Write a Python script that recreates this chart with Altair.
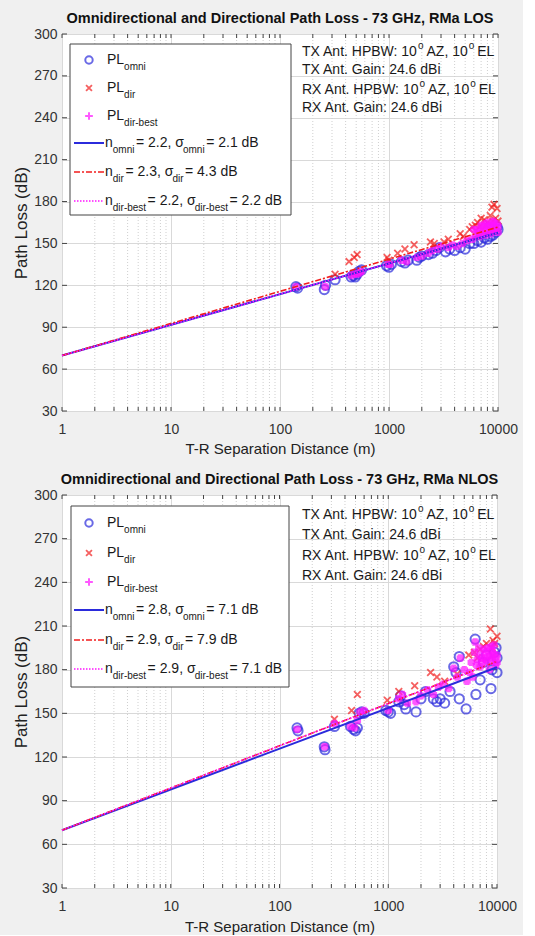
import altair as alt
import pandas as pd

# ---------------- data ----------------
los_omni_d = [140, 145, 255, 262, 320, 450, 470, 490, 510, 530, 560, 950, 1000, 1050, 1300, 1400, 1500,
              1800, 1900, 2000, 2300, 2500, 2700, 2900, 3300, 3600, 4000, 4500, 5000, 5500, 6000, 6500,
              7000, 7500, 8000, 8500, 9000, 9500, 9800, 10000]
los_omni_pl = [119, 118, 117, 120, 124, 126, 127, 126, 128, 130, 131, 134, 133, 135, 137, 136, 138,
               138, 140, 141, 142, 143, 145, 147, 144, 146, 145, 147, 146, 150, 150, 152,
               151, 154, 153, 155, 156, 158, 162, 160]
los_dir_d = [320, 430, 480, 510, 960, 1000, 1200, 1400, 1700, 2400, 2600, 3200, 3500, 4500, 4800, 5500,
             6200, 6500, 7000, 7500, 8000, 8500, 8800, 9200, 9800, 10000, 5800, 6800, 7800, 9000, 9500]
los_dir_pl = [128, 137, 140, 142, 140, 138, 143, 146, 149, 151, 150, 151, 153, 157, 155, 160,
              163, 165, 168, 167, 165, 170, 176, 178, 175, 166, 162, 162, 163, 166, 168]
los_best_d = [140, 260, 450, 480, 510, 540, 560, 980, 1020, 1300, 1450, 1800, 2000, 2300, 2500, 2800,
              3000, 3500, 3800, 4200, 4700, 5200, 5800, 6200, 6600, 7000, 7400, 7800, 8200, 8600,
              9000, 9400, 9800, 10000, 6000, 7000, 8000, 9000, 10000, 6400, 7200, 7600, 8400,
              8800, 9200, 9600, 6800, 7700, 8600]
los_best_pl = [119, 119, 127, 128, 128, 129, 130, 135, 135, 138, 137, 140, 141, 143, 145, 146,
               148, 147, 149, 148, 150, 152, 153, 155, 158, 157, 160, 159, 162, 160,
               163, 161, 164, 162, 160, 163, 165, 166, 158, 160, 162, 164, 163,
               158, 165, 160, 155, 156, 157]
los_fit_d = [1, 10000]
los_fit_omni = [69.7, 157.7]
los_fit_dir = [69.7, 161.7]
los_fit_best = [69.7, 157.7]

nlos_omni_d = [145, 148, 258, 262, 320, 450, 480, 500, 520, 540, 570, 600, 950, 1000, 1050, 1250, 1300,
               1400, 1450, 1800, 2000, 2200, 2600, 2800, 3000, 3300, 3700, 4000, 4200, 4500, 4500,
               5200, 6300, 6400, 7000, 7500, 8000, 8800, 9000, 9500, 10000, 10000, 9800]
nlos_omni_pl = [140, 138, 127, 125, 141, 141, 139, 138, 140, 150, 151, 150, 152, 151, 150, 158, 162,
                156, 153, 151, 160, 165, 160, 158, 160, 157, 165, 182, 178, 160, 189,
                153, 201, 163, 173, 185, 190, 167, 180, 192, 188, 178, 195]
nlos_dir_d = [320, 460, 520, 980, 1250, 1750, 2450, 2800, 3300, 4300, 5500, 6200, 7000, 7500, 8000,
              8700, 9200, 9500, 10000, 6600, 9000]
nlos_dir_pl = [146, 152, 163, 159, 165, 169, 178, 175, 172, 177, 190, 192, 194, 196, 198,
               208, 200, 198, 203, 188, 195]
nlos_best_d = [145, 260, 320, 450, 490, 520, 550, 600, 1000, 1250, 1350, 1500, 1800, 2000, 2300, 2600,
               2900, 3200, 3600, 4000, 4300, 4600, 5000, 5300, 5800, 6300, 6600, 7000, 7400, 7800,
               8200, 8600, 9000, 9400, 9800, 10000, 6000, 7000, 8000, 9000, 10000, 8500,
               6200, 6800, 7200, 7600, 8200, 8800, 9300, 9700, 5600, 6500, 7800, 9100]
nlos_best_pl = [139, 127, 143, 141, 140, 145, 151, 152, 152, 160, 163, 157, 158, 162, 166, 163,
                168, 170, 167, 181, 175, 188, 180, 172, 185, 199, 187, 190, 185, 192,
                195, 190, 193, 197, 188, 185, 175, 182, 186, 188, 190, 180,
                192, 195, 188, 194, 189, 196, 191, 183, 178, 183, 187, 186]
nlos_fit_d = [1, 10000]
nlos_fit_omni = [69.7, 181.7]
nlos_fit_dir = [69.7, 185.7]
nlos_fit_best = [69.7, 185.7]

x_ticks = [1, 10, 100, 1000, 10000]
x_minor = [m * 10 ** k for k in range(4) for m in range(2, 10)]
y_ticks = [30, 60, 90, 120, 150, 180, 210, 240, 270, 300]

titles = ["Omnidirectional and Directional Path Loss - 73 GHz, RMa LOS",
          "Omnidirectional and Directional Path Loss - 73 GHz, RMa NLOS"]
leg_stats = [[("2.2", "2.1"), ("2.3", "4.3"), ("2.2", "2.2")],
             [("2.8", "7.1"), ("2.9", "7.9"), ("2.9", "7.1")]]

BLUE = "#2b2bdc"
RED = "#f21d1d"
MAG = "#ff14ff"
FONT = "Liberation Sans"

# Arial/Liberation Sans advance widths (em)
W = {' ': .278, '=': .584, '.': .278, ',': .278, ':': .278, '-': .333, 'σ': .55}
for c in '0123456789':
    W[c] = .556
W.update({'P': .667, 'L': .556, 'n': .556, 'd': .556, 'B': .667, 'o': .556, 'm': .833, 'i': .222,
          'r': .333, 'b': .556, 'e': .556, 's': .5, 't': .278, 'T': .611, 'X': .667, 'A': .667,
          'H': .722, 'W': .944, 'Z': .611, 'E': .667, 'G': .778, 'a': .556, 'R': .722})


def tw(s, fs):
    return sum(W.get(c, .556) for c in s) * fs


one = pd.DataFrame({"a": [0]})


def rich(x0, y0, parts, fs=14, sfs=10):
    """parts: list of (text, kind[, shift]) kind in n (normal), s (sub), u (sup)"""
    layers = []
    x = x0
    for p in parts:
        txt, kind = p[0], p[1]
        if len(p) > 2:
            x += p[2]
        if kind == "n":
            size, dy, extra = fs, 0, 0
        elif kind == "s":
            size, dy, extra = sfs, 7, 1.5
        else:
            size, dy, extra = sfs, -6, 3
        layers.append(alt.Chart(one).mark_text(align="left", baseline="middle", fontSize=size,
                                               font=FONT, color="#1a1a1a").encode(
            x=alt.value(x), y=alt.value(y0 + dy), text=alt.value(txt)))
        x += tw(txt, size) + extra
    return layers


def panel(idx, W_, H_, om_d, om_pl, di_d, di_pl, be_d, be_pl, fd, f_om, f_di, f_be,
          box, rows, ann_rows, title_pad):
    xsc = alt.Scale(type="log", domain=[1, 10000], nice=False)
    ysc = alt.Scale(domain=[30, 300], nice=False, zero=False)
    xax = alt.Axis(values=x_ticks, format="d", title="T-R Separation Distance (m)", grid=True,
                   gridColor="#d9d9d9", labelFlush=False, ticks=False, labelPadding=11,
                   titlePadding=title_pad, labelFontSize=14, titleFontSize=15, labelFont=FONT,
                   titleFont=FONT, titleFontWeight="normal", labelColor="#333", titleColor="#222",
                   domain=False)
    yax = alt.Axis(values=y_ticks, title="Path Loss (dB)", grid=True, gridColor="#d9d9d9",
                   ticks=False, labelPadding=5, titlePadding=3, labelFontSize=14, titleFontSize=17,
                   labelFont=FONT, titleFont=FONT, titleFontWeight="normal", labelColor="#333",
                   titleColor="#222", domain=False)

    minor = alt.Chart(pd.DataFrame({"d": x_minor})).mark_rule(
        color="#cfcfcf", strokeDash=[1, 2], strokeWidth=1).encode(
        x=alt.X("d:Q", scale=xsc, axis=xax))
    base_y = alt.Chart(pd.DataFrame({"d": [1], "pl": [30]})).mark_point(opacity=0).encode(
        x=alt.X("d:Q", scale=xsc, axis=xax), y=alt.Y("pl:Q", scale=ysc, axis=yax))

    # inward ticks (MATLAB style)
    xt_all = pd.DataFrame({"d": x_ticks + x_minor})
    tk_b = alt.Chart(xt_all).mark_rule(color="#444", strokeWidth=1).encode(
        x=alt.X("d:Q", scale=xsc), y=alt.value(H_), y2=alt.value(H_ - 4))
    tk_t = alt.Chart(xt_all).mark_rule(color="#444", strokeWidth=1).encode(
        x=alt.X("d:Q", scale=xsc), y=alt.value(0), y2=alt.value(4))
    yt = pd.DataFrame({"pl": y_ticks})
    tk_l = alt.Chart(yt).mark_rule(color="#444", strokeWidth=1).encode(
        y=alt.Y("pl:Q", scale=ysc), x=alt.value(0), x2=alt.value(5))
    tk_r = alt.Chart(yt).mark_rule(color="#444", strokeWidth=1).encode(
        y=alt.Y("pl:Q", scale=ysc), x=alt.value(W_ - 5), x2=alt.value(W_))

    def pts(d, pl):
        return pd.DataFrame({"d": d, "pl": pl})

    omni = alt.Chart(pts(om_d, om_pl)).mark_point(
        shape="circle", filled=False, stroke=BLUE, strokeWidth=2, size=85).encode(
        x=alt.X("d:Q", scale=xsc), y=alt.Y("pl:Q", scale=ysc))
    dirp = alt.Chart(pts(di_d, di_pl)).mark_point(
        shape="M-1,-1L1,1M-1,1L1,-1", filled=False, stroke=RED, strokeWidth=1.8, size=45).encode(
        x=alt.X("d:Q", scale=xsc), y=alt.Y("pl:Q", scale=ysc))
    best = alt.Chart(pts(be_d, be_pl)).mark_point(
        shape="M-1,0L1,0M0,-1L0,1", filled=False, stroke=MAG, strokeWidth=5, size=55).encode(
        x=alt.X("d:Q", scale=xsc), y=alt.Y("pl:Q", scale=ysc))

    def fit(vals, color, width, dash):
        kw = dict(color=color, strokeWidth=width)
        if dash:
            kw["strokeDash"] = dash
        return alt.Chart(pd.DataFrame({"d": fd, "pl": vals})).mark_line(**kw).encode(
            x=alt.X("d:Q", scale=xsc), y=alt.Y("pl:Q", scale=ysc))

    l_om = fit(f_om, BLUE, 2, None)
    l_di = fit(f_di, RED, 1.6, [6, 2, 2, 2])
    l_be = fit(f_be, MAG, 1.6, [1.5, 1.5])

    layers = [minor, base_y, tk_b, tk_t, tk_l, tk_r, omni, dirp, best, l_om, l_di, l_be]

    # legend box
    bx0, by0, bx1, by1 = box
    layers.append(alt.Chart(one).mark_rect(fill="white", stroke="#444", strokeWidth=1).encode(
        x=alt.value(bx0), x2=alt.value(bx1), y=alt.value(by0), y2=alt.value(by1)))
    mx = 27
    layers.append(alt.Chart(one).mark_point(shape="circle", filled=False, stroke=BLUE,
                                            strokeWidth=2, size=55).encode(
        x=alt.value(mx), y=alt.value(rows[0])))
    layers.append(alt.Chart(one).mark_point(shape="M-1,-1L1,1M-1,1L1,-1", filled=False, stroke=RED,
                                            strokeWidth=1.8, size=35).encode(
        x=alt.value(mx), y=alt.value(rows[1])))
    layers.append(alt.Chart(one).mark_point(shape="M-1,0L1,0M0,-1L0,1", filled=False, stroke=MAG,
                                            strokeWidth=2, size=60).encode(
        x=alt.value(mx), y=alt.value(rows[2])))
    tx = 45
    layers += rich(tx, rows[0], [("PL", "n"), ("omni", "s")])
    layers += rich(tx, rows[1], [("PL", "n"), ("dir", "s")])
    layers += rich(tx, rows[2], [("PL", "n"), ("dir-best", "s")])
    samples = [(BLUE, 2, None), (RED, 1.6, [6, 2, 2, 2]), (MAG, 1.6, [1.5, 1.5])]
    names = ["omni", "dir", "dir-best"]
    for k in range(3):
        col, wdt, dash = samples[k]
        kw = dict(color=col, strokeWidth=wdt)
        if dash:
            kw["strokeDash"] = dash
        layers.append(alt.Chart(one).mark_rule(**kw).encode(
            x=alt.value(12), x2=alt.value(42), y=alt.value(rows[3 + k])))
        nv, sv = leg_stats[idx][k]
        layers += rich(43, rows[3 + k], [("n", "n"), (names[k], "s"), (" = " + nv + ",", "n"),
                                          ("σ", "n"), (names[k], "s"), (" = " + sv + " dB", "n")])
    ax = 240
    layers += rich(ax, ann_rows[0], [("TX Ant. HPBW: 10", "n"), ("o", "u"), (" AZ, 10", "n"),
                                     ("o", "u", -3), (" EL", "n")])
    layers += rich(ax, ann_rows[1], [("TX Ant. Gain: 24.6 dBi", "n")])
    layers += rich(ax, ann_rows[2], [("RX Ant. HPBW: 10", "n"), ("o", "u"), (" AZ, 10", "n"),
                                     ("o", "u", -3), (" EL", "n")])
    layers += rich(ax, ann_rows[3], [("RX Ant. Gain: 24.6 dBi", "n")])

    return alt.layer(*layers).properties(
        width=W_, height=H_,
        title=alt.TitleParams(titles[idx], fontSize=14.5, font=FONT, fontWeight="bold",
                              anchor="middle", offset=1, color="#111"))


top = panel(0, 436, 377, los_omni_d, los_omni_pl, los_dir_d, los_dir_pl, los_best_d, los_best_pl,
            los_fit_d, los_fit_omni, los_fit_dir, los_fit_best,
            (8, 10, 229, 181), [26, 54, 82, 109, 138, 167], [18, 36, 56, 74], 5)
bot = panel(1, 435, 393, nlos_omni_d, nlos_omni_pl, nlos_dir_d, nlos_dir_pl, nlos_best_d,
            nlos_best_pl, nlos_fit_d, nlos_fit_omni, nlos_fit_dir, nlos_fit_best,
            (9, 11, 227, 192), [28, 58, 87, 115, 145, 174], [20, 40, 61, 81], 6)

chart = alt.vconcat(top, bot, spacing=14).properties(
    background="#f0f0f0", padding={"left": 12, "top": 10, "right": 5, "bottom": 0}
).configure_view(fill="white", stroke="#555", strokeWidth=1)

chart.save("out.html", embed_options={"renderer": "svg", "actions": False})
